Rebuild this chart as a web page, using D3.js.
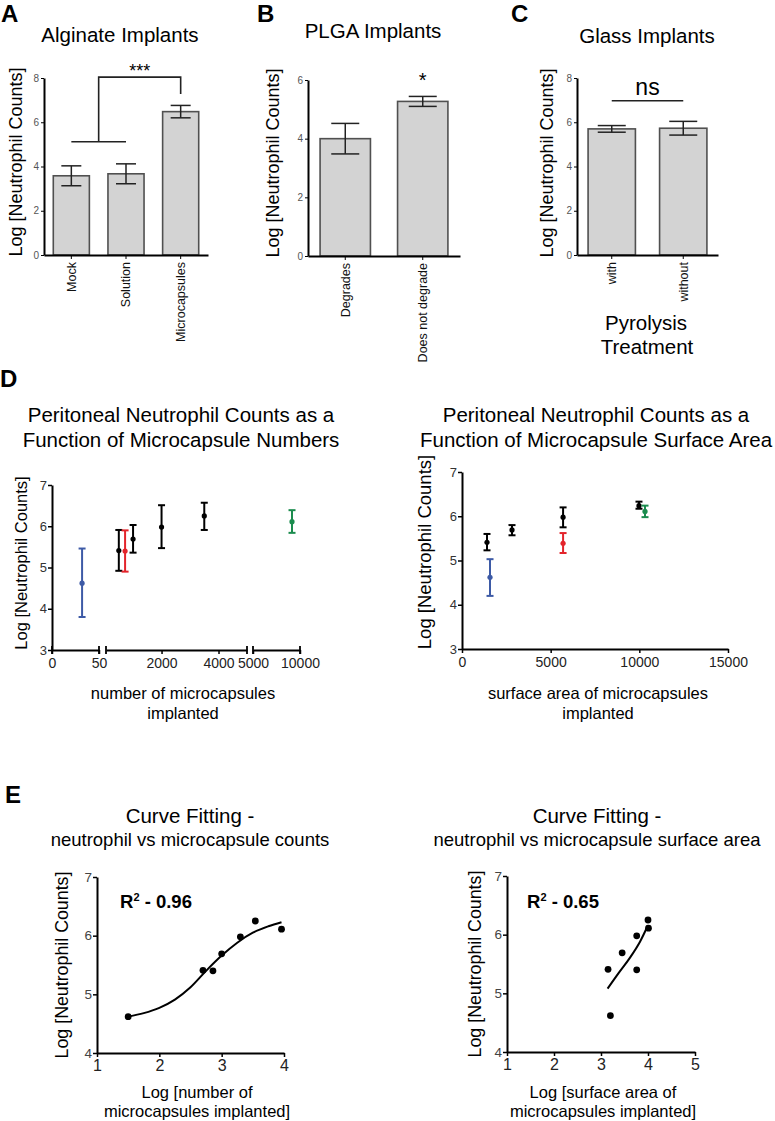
<!DOCTYPE html>
<html><head><meta charset="utf-8">
<script src="https://cdn.jsdelivr.net/npm/d3@7"></script>
<style>
body{margin:0;background:#fff;}
svg{display:block;font-family:"Liberation Sans",Arial,Helvetica,sans-serif;}
</style></head><body>
<svg id="fig" width="775" height="1121"></svg>
<script>
// ---------------- DATA ----------------
const alginateCats = ["Mock", "Solution", "Microcapsules"];
const alginateMeans = [3.58, 3.67, 6.48];
const alginateErr = [0.45, 0.45, 0.28];
const alginateTicks = [0, 2, 4, 6, 8];

const plgaCats = ["Degrades", "Does not degrade"];
const plgaMeans = [4.0, 5.27];
const plgaErr = [0.52, 0.17];
const plgaTicks = [0, 2, 4, 6];

const glassCats = ["with", "without"];
const glassMeans = [5.70, 5.73];
const glassErr = [0.15, 0.31];
const glassTicks = [0, 2, 4, 6, 8];

// D: groups in order (blue, black, red, black, black, black, green)
const pointColors = ["#3d5aa6", "#000000", "#e3242b", "#000000", "#000000", "#000000", "#1b8c4e"];
const countX  = [32, 500, 720, 1000, 2000, 3500, 9150];
const countY  = [4.62, 5.41, 5.40, 5.69, 5.98, 6.25, 6.11];
const countLo = [3.80, 4.92, 4.90, 5.36, 5.47, 5.91, 5.84];
const countHi = [5.46, 5.91, 5.90, 6.03, 6.51, 6.57, 6.39];
const countSegments = [[0, 50], [50, 5000], [5000, 10000]];
const countTickLabels = [[0, 50], [2000, 4000], [5000, 10000]];

const areaX  = [1580, 1410, 5700, 2820, 5700, 9980, 10320];
const areaY  = [4.62, 5.41, 5.39, 5.69, 5.98, 6.24, 6.11];
const areaLo = [4.20, 5.23, 5.17, 5.57, 5.75, 6.17, 5.98];
const areaHi = [5.03, 5.60, 5.62, 5.80, 6.20, 6.33, 6.24];
const areaTicks = [0, 5000, 10000, 15000];
const dYTicks = [3, 4, 5, 6, 7];

// E: curve fitting
const logCountX = [1.50, 2.70, 2.86, 3.00, 3.30, 3.54, 3.96];
const logCountY = [4.62, 5.41, 5.40, 5.69, 5.98, 6.25, 6.11];
const fitCountX = [1.5, 1.75, 2.0, 2.25, 2.5, 2.75, 3.0, 3.25, 3.5, 3.75, 3.96];
const fitCountY = [4.62, 4.68, 4.77, 4.91, 5.12, 5.40, 5.66, 5.88, 6.05, 6.16, 6.23];
const logAreaX = [3.15, 3.20, 3.45, 3.76, 3.76, 4.00, 4.01];
const logAreaY = [5.41, 4.62, 5.69, 5.98, 5.40, 6.25, 6.11];
const fitAreaX = [3.14, 3.37, 3.61, 3.83, 4.00];
const fitAreaY = [5.08, 5.34, 5.60, 5.88, 6.16];
const eYTicks = [4, 5, 6, 7];
const eCountTicks = [1, 2, 3, 4];
const eAreaTicks = [1, 2, 3, 4, 5];

// ---------------- DRAW ----------------
const svg = d3.select("#fig");
const intFmt = d3.format("d");

function txt(x, y, s, o = {}) {
  const t = svg.append("text").attr("x", x).attr("y", y).text(s)
    .attr("font-size", o.size || 14)
    .attr("text-anchor", o.anchor || "middle")
    .attr("fill", o.fill || "#000");
  if (o.bold) t.attr("font-weight", "bold");
  if (o.rotate) t.attr("transform", `rotate(-90,${x},${y})`);
  return t;
}

function styleAxis(g, o) {
  g.select(".domain").attr("stroke", "#000").attr("stroke-width", o.w || 2);
  g.selectAll(".tick line").attr("stroke", "#000").attr("stroke-width", o.tw || 1.5);
  g.selectAll(".tick text").attr("font-size", o.size).attr("fill", o.fill || "#222")
    .attr("font-family", '"Liberation Sans",Arial,sans-serif');
}

function barPanel(c) {
  const x = d3.scaleBand().domain(c.cats).range([c.x0, c.x1]).paddingInner(c.pi).paddingOuter(c.po);
  const y = d3.scaleLinear().domain([0, c.ymax]).range([c.y0, c.yTop]);
  const g = svg.append("g");
  g.selectAll("rect").data(c.cats).join("rect")
    .attr("x", d => x(d)).attr("width", x.bandwidth())
    .attr("y", (d, i) => y(c.means[i])).attr("height", (d, i) => y(0) - y(c.means[i]))
    .attr("fill", "#d3d3d3").attr("stroke", "#505050").attr("stroke-width", 1.6);
  c.cats.forEach((d, i) => {
    const cx = x(d) + x.bandwidth() / 2;
    const hi = y(c.means[i] + c.errs[i]), lo = y(c.means[i] - c.errs[i]);
    g.append("line").attr("x1", cx).attr("x2", cx).attr("y1", hi).attr("y2", lo).attr("stroke", "#222").attr("stroke-width", 1.5);
    [hi, lo].forEach(v => g.append("line").attr("x1", cx - c.cap / 2).attr("x2", cx + c.cap / 2)
      .attr("y1", v).attr("y2", v).attr("stroke", "#222").attr("stroke-width", 1.5));
  });
  const ya = g.append("g").attr("transform", `translate(${c.x0},0)`)
    .call(d3.axisLeft(y).tickValues(c.ticks).tickFormat(intFmt).tickSize(3).tickPadding(2).tickSizeOuter(0));
  styleAxis(ya, { size: 10, fill: "#555", tw: 1 });
  const xa = g.append("g").attr("transform", `translate(0,${c.y0})`)
    .call(d3.axisBottom(x).tickSize(4).tickSizeOuter(0));
  styleAxis(xa, { size: 12.5, fill: "#111", tw: 1 });
  xa.selectAll(".tick text").attr("transform", "rotate(-90)").attr("text-anchor", "end")
    .attr("x", -7).attr("y", 0).attr("dy", "0.35em");
  return { x, y, g };
}

// Panel letters
[["A", 1, 22], ["B", 257, 22], ["C", 511, 22], ["D", 0, 387], ["E", 5, 803]]
  .forEach(([s, x, y]) => txt(x, y, s, { size: 24, bold: true, anchor: "start" }));

// ---- A
const A = barPanel({ cats: alginateCats, means: alginateMeans, errs: alginateErr, ticks: alginateTicks,
  x0: 44, x1: 208, pi: 0.34, po: 0.17, y0: 255, yTop: 78, ymax: 8, cap: 20 });
txt(120, 42, "Alginate Implants", { size: 20.5 });
txt(16, 162, "Log [Neutrophil Counts]", { size: 18, rotate: true }).attr("dy", "0.35em");
{
  const cm = A.x("Mock") + A.x.bandwidth() / 2, cs = A.x("Solution") + A.x.bandwidth() / 2,
        cc = A.x("Microcapsules") + A.x.bandwidth() / 2, mid = (cm + cs) / 2;
  const br = d3.path();
  br.moveTo(cm, A.y(5.12)); br.lineTo(cs, A.y(5.12));
  br.moveTo(mid, A.y(5.12)); br.lineTo(mid, A.y(8.04)); br.lineTo(cc, A.y(8.04)); br.lineTo(cc, A.y(7.28));
  svg.append("path").attr("d", br.toString()).attr("fill", "none").attr("stroke", "#222").attr("stroke-width", 1.6);
  txt(mid + (cc - mid) / 2, 77, "***", { size: 18 });
}

// ---- B
const B = barPanel({ cats: plgaCats, means: plgaMeans, errs: plgaErr, ticks: plgaTicks,
  x0: 308, x1: 460, pi: 0.35, po: 0.156, y0: 256, yTop: 80, ymax: 6, cap: 28 });
txt(373, 38, "PLGA Implants", { size: 20.5 });
txt(273, 163, "Log [Neutrophil Counts]", { size: 18, rotate: true }).attr("dy", "0.35em");
txt(B.x("Does not degrade") + B.x.bandwidth() / 2, 87, "*", { size: 20 });

// ---- C
const C = barPanel({ cats: glassCats, means: glassMeans, errs: glassErr, ticks: glassTicks,
  x0: 577, x1: 718, pi: 0.338, po: 0.155, y0: 255, yTop: 78, ymax: 8, cap: 28 });
txt(647, 43, "Glass Implants", { size: 20.5 });
txt(547, 163, "Log [Neutrophil Counts]", { size: 18, rotate: true }).attr("dy", "0.35em");
{
  const c1 = C.x("with") + C.x.bandwidth() / 2, c2 = C.x("without") + C.x.bandwidth() / 2;
  svg.append("line").attr("x1", c1).attr("x2", c2).attr("y1", C.y(6.97)).attr("y2", C.y(6.97))
    .attr("stroke", "#222").attr("stroke-width", 1.6);
  txt((c1 + c2) / 2, 95, "ns", { size: 23 });
}
txt(646, 330, "Pyrolysis", { size: 20.5 });
txt(647, 354, "Treatment", { size: 20.5 });

// ---- D titles
txt(181, 422, "Peritoneal Neutrophil Counts as a", { size: 20.5 });
txt(181, 447, "Function of Microcapsule Numbers", { size: 20.5 });
txt(596, 422, "Peritoneal Neutrophil Counts as a", { size: 20.5 });
txt(596, 447, "Function of Microcapsule Surface Area", { size: 20.5 });

function errPoints(xf, yf, xs, ys, lo, hi, cap, r, g) {
  xs.forEach((xv, i) => {
    const cx = xf(xv), col = pointColors[i];
    g.append("line").attr("x1", cx).attr("x2", cx).attr("y1", yf(hi[i])).attr("y2", yf(lo[i]))
      .attr("stroke", col).attr("stroke-width", 2);
    [hi[i], lo[i]].forEach(v => g.append("line").attr("x1", cx - cap / 2).attr("x2", cx + cap / 2)
      .attr("y1", yf(v)).attr("y2", yf(v)).attr("stroke", col).attr("stroke-width", 2));
    g.append("circle").attr("cx", cx).attr("cy", yf(ys[i])).attr("r", r).attr("fill", col);
  });
}

// ---- D left: segmented x axis
{
  const g = svg.append("g");
  const y = d3.scaleLinear().domain([3, 7]).range([650, 485]);
  const ranges = [[52, 99], [106, 247], [253, 300]];
  const segs = countSegments.map((d, i) => d3.scaleLinear().domain(d).range(ranges[i]));
  const xf = v => {
    for (let i = 0; i < segs.length; i++) {
      const dm = countSegments[i];
      if (v >= dm[0] && v <= dm[1]) return segs[i](v);
    }
    return segs[segs.length - 1](v);
  };
  segs.forEach((s, i) => {
    const ax = g.append("g").attr("transform", "translate(0,650)")
      .call(d3.axisBottom(s).tickValues(countTickLabels[i]).tickFormat(intFmt).tickSize(4).tickPadding(4).tickSizeOuter(0));
    styleAxis(ax, { size: 14, fill: "#222" });
    s.range().forEach(px => g.append("line").attr("x1", px).attr("x2", px).attr("y1", 646).attr("y2", 654)
      .attr("stroke", "#000").attr("stroke-width", 1.8));
  });
  const ya = g.append("g").attr("transform", "translate(52,0)")
    .call(d3.axisLeft(y).tickValues(dYTicks).tickFormat(intFmt).tickSize(4).tickPadding(1).tickSizeOuter(0));
  styleAxis(ya, { size: 13, fill: "#333" });
  errPoints(xf, y, countX, countY, countLo, countHi, 7, 2.6, g);
  txt(21, 563, "Log [Neutrophil Counts]", { size: 16.5, rotate: true }).attr("dy", "0.35em");
  txt(183, 699, "number of microcapsules", { size: 16.5 });
  txt(183, 719, "implanted", { size: 16.5 });
}

// ---- D right
{
  const g = svg.append("g");
  const x = d3.scaleLinear().domain([0, 15000]).range([462, 728]);
  const y = d3.scaleLinear().domain([3, 7]).range([649, 472]);
  const xa = g.append("g").attr("transform", "translate(0,649)")
    .call(d3.axisBottom(x).tickValues(areaTicks).tickFormat(intFmt).tickSize(4).tickPadding(4).tickSizeOuter(0));
  styleAxis(xa, { size: 14, fill: "#222" });
  const ya = g.append("g").attr("transform", "translate(462,0)")
    .call(d3.axisLeft(y).tickValues(dYTicks).tickFormat(intFmt).tickSize(4).tickPadding(1).tickSizeOuter(0));
  styleAxis(ya, { size: 13, fill: "#333" });
  errPoints(x, y, areaX, areaY, areaLo, areaHi, 7, 2.6, g);
  txt(425, 552, "Log [Neutrophil Counts]", { size: 18.5, rotate: true }).attr("dy", "0.35em");
  txt(598, 699, "surface area of microcapsules", { size: 16.5 });
  txt(598, 719, "implanted", { size: 16.5 });
}

// ---- E
function fitPanel(c) {
  const g = svg.append("g");
  const x = d3.scaleLinear().domain(c.xdom).range([c.x0, c.x1]);
  const y = d3.scaleLinear().domain([4, 7]).range([c.y0, c.yTop]);
  const xa = g.append("g").attr("transform", `translate(0,${c.y0})`)
    .call(d3.axisBottom(x).tickValues(c.xticks).tickFormat(intFmt).tickSize(4).tickPadding(3).tickSizeOuter(0));
  styleAxis(xa, { size: 16, fill: "#222" });
  const ya = g.append("g").attr("transform", `translate(${c.x0},0)`)
    .call(d3.axisLeft(y).tickValues(eYTicks).tickFormat(intFmt).tickSize(4).tickPadding(1).tickSizeOuter(0));
  styleAxis(ya, { size: 13.5, fill: "#444" });
  const line = d3.line().x(d => x(d[0])).y(d => y(d[1])).curve(d3.curveMonotoneX);
  g.append("path").attr("d", line(c.fx.map((v, i) => [v, c.fy[i]])))
    .attr("fill", "none").attr("stroke", "#000").attr("stroke-width", 2);
  g.selectAll("circle").data(c.px).join("circle")
    .attr("cx", d => x(d)).attr("cy", (d, i) => y(c.py[i])).attr("r", 3.4).attr("fill", "#000");
  const r = txt(c.rx, 908, "", { size: 18.5, bold: true, anchor: "start" });
  r.append("tspan").text("R");
  r.append("tspan").text("2").attr("font-size", 11).attr("dy", -7);
  r.append("tspan").text(" - " + c.r2).attr("dy", 7);
  txt(c.tx, 823, "Curve Fitting -", { size: 20.5 });
  txt(c.tx, 846, c.sub, { size: 18.5 });
  txt(c.lx, (c.y0 + c.yTop) / 2, "Log [Neutrophil Counts]", { size: 17.8, rotate: true }).attr("dy", "0.35em");
  txt(c.ax, 1098, c.xl1, { size: 16.5 });
  txt(c.ax, 1117, c.xl2, { size: 16.5 });
}
fitPanel({ xdom: [1, 4], x0: 97, x1: 284, y0: 1053, yTop: 877, xticks: eCountTicks,
  fx: fitCountX, fy: fitCountY, px: logCountX, py: logCountY, rx: 120, r2: "0.96",
  tx: 190, sub: "neutrophil vs microcapsule counts", lx: 62, ax: 197,
  xl1: "Log [number of", xl2: "microcapsules implanted]" });
fitPanel({ xdom: [1, 5], x0: 507, x1: 695, y0: 1052, yTop: 876, xticks: eAreaTicks,
  fx: fitAreaX, fy: fitAreaY, px: logAreaX, py: logAreaY, rx: 527, r2: "0.65",
  tx: 597, sub: "neutrophil vs microcapsule surface area", lx: 475, ax: 603,
  xl1: "Log [surface area of", xl2: "microcapsules implanted]" });
</script>
</body></html>
